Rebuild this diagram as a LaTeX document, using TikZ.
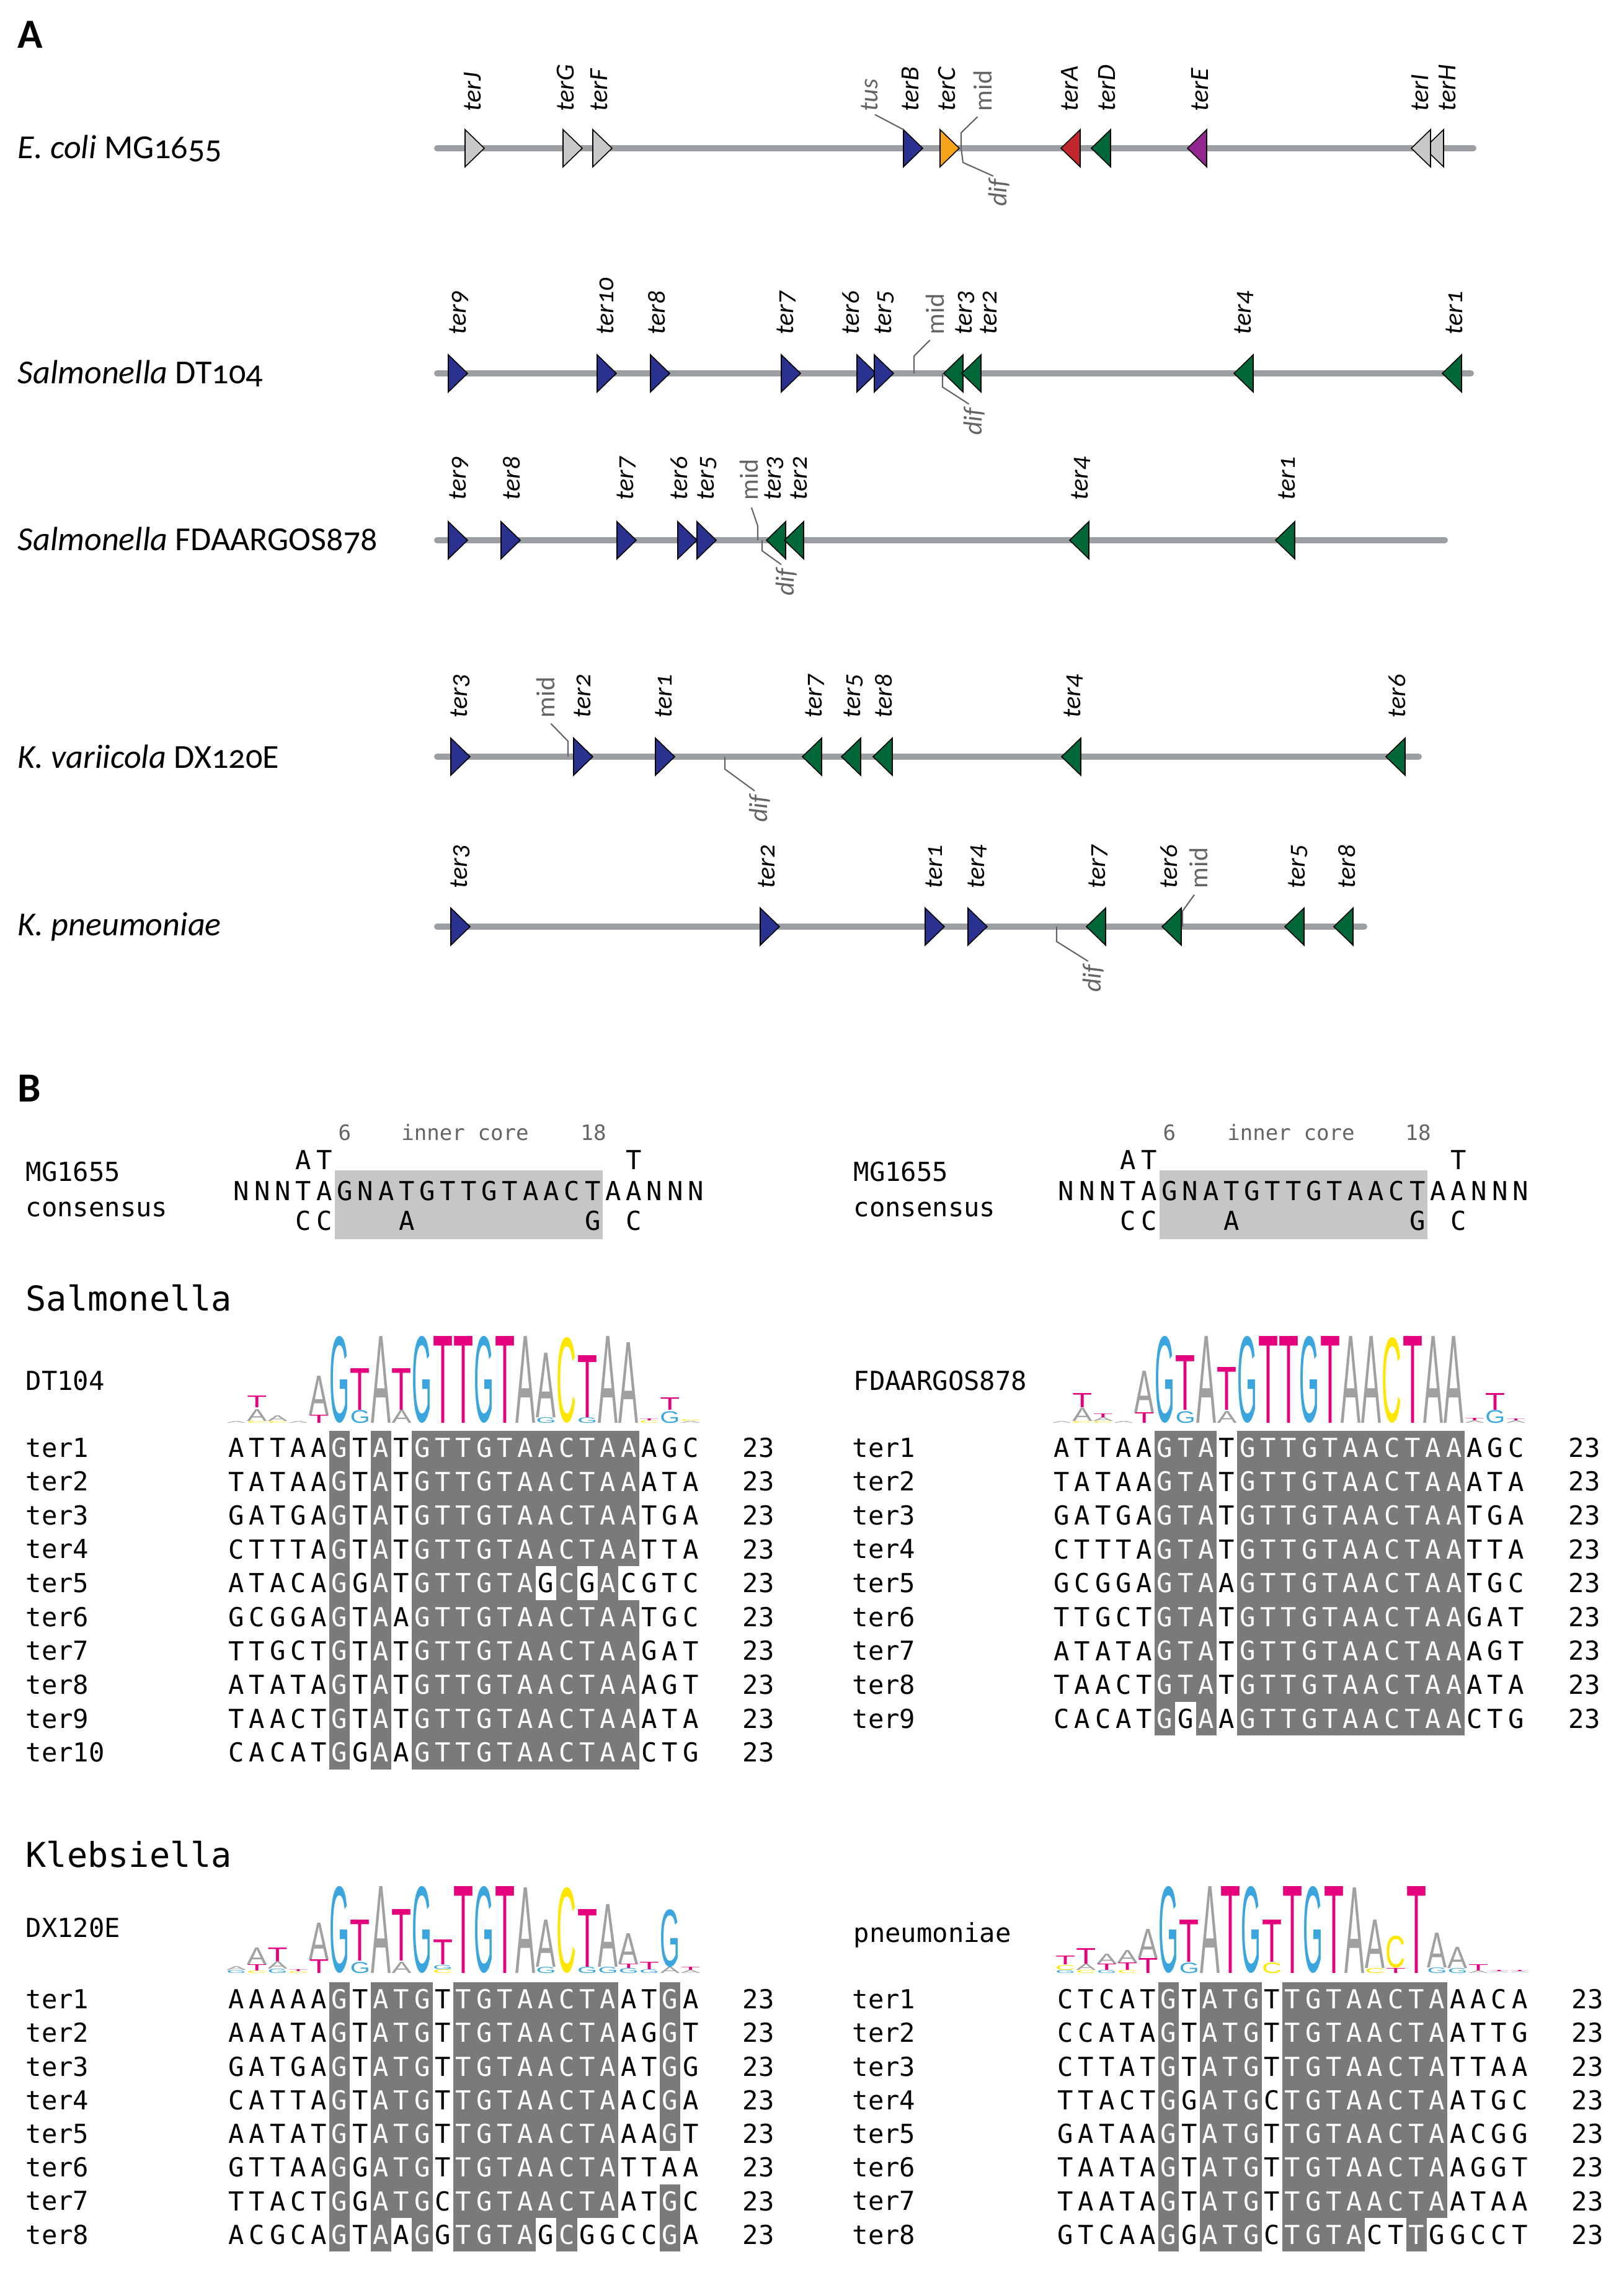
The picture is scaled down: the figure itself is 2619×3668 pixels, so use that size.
\documentclass[tikz,border=0pt]{standalone}
\usepackage{fontspec}
\setmainfont{Carlito}[Numbers=OldStyle]
\newfontfamily\seqfont{DejaVu Sans Mono}
\newfontfamily\logofont{Liberation Sans}
\usepackage{graphicx}
\usetikzlibrary{calc,positioning}

\definecolor{chromgray}{RGB}{155,159,164}
\definecolor{tergray}{RGB}{200,200,200}
\definecolor{terblue}{RGB}{43,49,143}
\definecolor{terorange}{RGB}{247,162,27}
\definecolor{terred}{RGB}{193,39,45}
\definecolor{tergreen}{RGB}{0,104,56}
\definecolor{terpurple}{RGB}{147,39,143}
\definecolor{leadgray}{RGB}{100,100,104}
\definecolor{cellgray}{RGB}{122,122,122}
\definecolor{coregray}{RGB}{198,198,198}
\definecolor{logoA}{RGB}{160,160,160}
\definecolor{logoC}{RGB}{255,230,0}
\definecolor{logoG}{RGB}{58,166,221}
\definecolor{logoT}{RGB}{229,0,126}

\newlength\logounit
\setlength\logounit{0.01cm}
\newcount\seqn

% ter site markers: name, back edge x, y, fill
\newcommand{\terR}[4]{\coordinate (#1) at (#2,#3);
  \draw[termark,fill=#4] ({#2},{#3-30}) -- ({#2+31},{#3}) -- ({#2},{#3+30}) -- cycle;}
\newcommand{\terL}[4]{\coordinate (#1) at (#2,#3);
  \draw[termark,fill=#4] ({#2+31},{#3-30}) -- ({#2},{#3}) -- ({#2+31},{#3+30}) -- cycle;}

% one alignment row, lower case = shaded, . = empty
\newcommand{\seqrow}[4]{\def\seqname{#1}\def\seqx{#2}\def\seqy{#3}%
  \global\seqn=0 \edef\seqtmp{#4}\expandafter\seqnext\seqtmp\relax}
\def\seqnext#1{\ifx#1\relax\else
  \global\advance\seqn by 1
  \ifx#1.\else\seqcell{#1}\fi
  \expandafter\seqnext\fi}
\def\seqcell#1{\uppercase{\def\seqL{#1}}%
  \ifnum`#1>90
    \fill[cellfill] ({\seqx+(\the\seqn-1)*33.3},{\seqy-27.3}) rectangle ({\seqx+\the\seqn*33.3},{\seqy+27.3});
    \node[seqchar,text=white] (\seqname-\the\seqn) at ({\seqx+(\the\seqn-0.5)*33.3},{\seqy}) {\seqL};
  \else
    \node[seqchar] (\seqname-\the\seqn) at ({\seqx+(\the\seqn-0.5)*33.3},{\seqy}) {\seqL};
  \fi}

% sequence logo: name, x0, base y, col/letter/bottom/height
\newcommand{\seqlogo}[4]{\foreach \kcol/\klet/\kbot/\khgt in {#4}
  {\node[logochar,text=logo\klet] (#1-\kcol\klet) at ({#2+(\kcol-0.5)*33.3},{#3-\kbot}) {\resizebox*{0.32cm}{\khgt\logounit}{\klet}};}}

\begin{document}
\begin{tikzpicture}[x=0.01cm,y=-0.01cm,
  chrom/.style={line width=0.1cm,draw=chromgray,line cap=round},
  termark/.style={draw=black,line width=0.45pt,line join=miter},
  terlab/.style={rotate=90,anchor=west,inner sep=0pt,font=\fontsize{12}{14}\selectfont\itshape},
  graylab/.style={terlab,text=leadgray},
  midlab/.style={graylab,font=\fontsize{12}{14}\selectfont},
  diflab/.style={graylab,anchor=east},
  leader/.style={draw=leadgray,line width=0.6pt},
  species/.style={anchor=west,inner sep=0pt,font=\fontsize{15.4}{18}\selectfont},
  panel/.style={anchor=north west,inner sep=0pt,font=\fontsize{19}{22}\selectfont\bfseries},
  seqchar/.style={inner sep=0pt,font=\seqfont\fontsize{12}{14}\selectfont},
  cellfill/.style={fill=cellgray},
  corefill/.style={fill=coregray},
  rowlab/.style={anchor=west,inner sep=0pt,font=\seqfont\fontsize{12}{14}\selectfont},
  countlab/.style={inner sep=0pt,font=\seqfont\fontsize{12}{14}\selectfont},
  grouplab/.style={anchor=west,inner sep=0pt,font=\seqfont\fontsize{15.7}{18}\selectfont},
  corelab/.style={inner sep=0pt,text=leadgray,font=\seqfont\fontsize{9.7}{11}\selectfont},
  logochar/.style={inner sep=0pt,anchor=south,font=\logofont}]

\useasboundingbox (0,0) rectangle (2619,3668);

%% A
\node[panel] (pA) at (28,33) {A};

% E. coli
\node[species] (spE) at (28,239) {\textit{E. coli} MG1655};
\coordinate (eL) at (705,239);
\coordinate (eR) at (2376,239);
\draw[chrom] (eL) -- (eR);
\terR{eJ}{750}{239}{tergray}
\terR{eG}{908}{239}{tergray}
\terR{eF}{956}{239}{tergray}
\terR{eB}{1457}{239}{terblue}
\terR{eC}{1516}{239}{terorange}
\terL{eA}{1711}{239}{terred}
\terL{eD}{1760}{239}{tergreen}
\terL{eE}{1915}{239}{terpurple}
\terL{eH}{2297}{239}{tergray}
\terL{eI}{2276}{239}{tergray}
\node[terlab] (eJl) at (762,180) {terJ};
\node[terlab] (eGl) at (912,180) {terG};
\node[terlab] (eFl) at (966,180) {terF};
\node[graylab] (eTus) at (1402,180) {tus};
\node[terlab] (eBl) at (1468,180) {terB};
\node[terlab] (eCl) at (1527,180) {terC};
\node[midlab] (eMid) at (1585,180) {mid};
\node[terlab] (eAl) at (1725,180) {terA};
\node[terlab] (eDl) at (1785,180) {terD};
\node[terlab] (eEl) at (1935,180) {terE};
\node[terlab] (eIl) at (2290,180) {terI};
\node[terlab] (eHl) at (2334,180) {terH};
\node[diflab] (eDif) at (1611,288) {dif};
\coordinate (eM1) at (1550,214);
\coordinate (eM2) at (1550,239);
\coordinate (eD1) at (1553,262);
\draw[leader,shorten <=0.1cm] (eTus.west) -- ($(eB)+(0,-30)$);
\draw[leader,shorten <=0.12cm] (eMid.west) -- (eM1) -- (eM2);
\draw[leader,shorten >=0.1cm] (eM2) -- (eD1) -- (eDif.east);

% Salmonella DT104
\node[species] (spDT) at (28,602) {\textit{Salmonella} DT104};
\coordinate (dL) at (705,602);
\coordinate (dR) at (2372,602);
\draw[chrom] (dL) -- (dR);
\terR{d9}{723}{602}{terblue}
\terR{d10}{963}{602}{terblue}
\terR{d8}{1049}{602}{terblue}
\terR{d7}{1260}{602}{terblue}
\terR{d6}{1382}{602}{terblue}
\terR{d5}{1410}{602}{terblue}
\terL{d3}{1522}{602}{tergreen}
\terL{d2}{1551}{602}{tergreen}
\terL{d4}{1990}{602}{tergreen}
\terL{d1}{2326}{602}{tergreen}
\node[terlab] (d9l) at (740,540) {ter9};
\node[terlab] (d10l) at (976,540) {ter10};
\node[terlab] (d8l) at (1059,540) {ter8};
\node[terlab] (d7l) at (1268,540) {ter7};
\node[terlab] (d6l) at (1372,540) {ter6};
\node[terlab] (d5l) at (1426,540) {ter5};
\node[midlab] (dMid) at (1508,540) {mid};
\node[terlab] (d3l) at (1556,540) {ter3};
\node[terlab] (d2l) at (1594,540) {ter2};
\node[terlab] (d4l) at (2006,540) {ter4};
\node[terlab] (d1l) at (2345,540) {ter1};
\node[diflab] (dDif) at (1571,657) {dif};
\coordinate (dM1) at (1474,574);
\coordinate (dM2) at (1474,602);
\coordinate (dD0) at (1520,602);
\coordinate (dD1) at (1520,624);
\draw[leader,shorten <=0.12cm] (dMid.west) -- (dM1) -- (dM2);
\draw[leader,shorten >=0.1cm] (dD0) -- (dD1) -- (dDif.east);

% Salmonella FDAARGOS878
\node[species] (spFD) at (28,871) {\textit{Salmonella} FDAARGOS878};
\coordinate (fL) at (705,871);
\coordinate (fR) at (2330,871);
\draw[chrom] (fL) -- (fR);
\terR{f9}{723}{871}{terblue}
\terR{f8}{808}{871}{terblue}
\terR{f7}{995}{871}{terblue}
\terR{f6}{1093}{871}{terblue}
\terR{f5}{1124}{871}{terblue}
\terL{f3}{1236}{871}{tergreen}
\terL{f2}{1265}{871}{tergreen}
\terL{f4}{1725}{871}{tergreen}
\terL{f1}{2057}{871}{tergreen}
\node[terlab] (f9l) at (740,807) {ter9};
\node[terlab] (f8l) at (825,807) {ter8};
\node[terlab] (f7l) at (1010,807) {ter7};
\node[terlab] (f6l) at (1095,807) {ter6};
\node[terlab] (f5l) at (1140,807) {ter5};
\node[midlab] (fMid) at (1208,807) {mid};
\node[terlab] (f3l) at (1248,807) {ter3};
\node[terlab] (f2l) at (1288,807) {ter2};
\node[terlab] (f4l) at (1743,807) {ter4};
\node[terlab] (f1l) at (2075,807) {ter1};
\node[diflab] (fDif) at (1268,916) {dif};
\coordinate (fM1) at (1222,848);
\coordinate (fM2) at (1222,871);
\coordinate (fD0) at (1229,871);
\coordinate (fD1) at (1229,888);
\draw[leader,shorten <=0.12cm] (fMid.west) -- (fM1) -- (fM2);
\draw[leader,shorten >=0.1cm] (fD0) -- (fD1) -- (fDif.east);

% K. variicola DX120E
\node[species] (spKV) at (28,1220) {\textit{K. variicola} DX120E};
\coordinate (kvL) at (705,1220);
\coordinate (kvR) at (2288,1220);
\draw[chrom] (kvL) -- (kvR);
\terR{kv3}{727}{1220}{terblue}
\terR{kv2}{925}{1220}{terblue}
\terR{kv1}{1057}{1220}{terblue}
\terL{kv7}{1294}{1220}{tergreen}
\terL{kv5}{1357}{1220}{tergreen}
\terL{kv8}{1408}{1220}{tergreen}
\terL{kv4}{1712}{1220}{tergreen}
\terL{kv6}{2235}{1220}{tergreen}
\node[terlab] (kv3l) at (742,1158) {ter3};
\node[midlab] (kvMid) at (880,1158) {mid};
\node[terlab] (kv2l) at (939,1158) {ter2};
\node[terlab] (kv1l) at (1070,1158) {ter1};
\node[terlab] (kv7l) at (1314,1158) {ter7};
\node[terlab] (kv5l) at (1376,1158) {ter5};
\node[terlab] (kv8l) at (1425,1158) {ter8};
\node[terlab] (kv4l) at (1731,1158) {ter4};
\node[terlab] (kv6l) at (2253,1158) {ter6};
\node[diflab] (kvDif) at (1225,1281) {dif};
\coordinate (kvM1) at (916,1195);
\coordinate (kvM2) at (916,1220);
\coordinate (kvD0) at (1169,1220);
\coordinate (kvD1) at (1169,1240);
\draw[leader,shorten <=0.12cm] (kvMid.west) -- (kvM1) -- (kvM2);
\draw[leader,shorten >=0.1cm] (kvD0) -- (kvD1) -- (kvDif.east);

% K. pneumoniae
\node[species] (spKP) at (28,1494) {\textit{K. pneumoniae}};
\coordinate (kpL) at (705,1494);
\coordinate (kpR) at (2200,1494);
\draw[chrom] (kpL) -- (kpR);
\terR{kp3}{727}{1494}{terblue}
\terR{kp2}{1226}{1494}{terblue}
\terR{kp1}{1492}{1494}{terblue}
\terR{kp4}{1561}{1494}{terblue}
\terL{kp7}{1752}{1494}{tergreen}
\terL{kp6}{1874}{1494}{tergreen}
\terL{kp5}{2072}{1494}{tergreen}
\terL{kp8}{2151}{1494}{tergreen}
\node[terlab] (kp3l) at (742,1433) {ter3};
\node[terlab] (kp2l) at (1236,1433) {ter2};
\node[terlab] (kp1l) at (1506,1433) {ter1};
\node[terlab] (kp4l) at (1576,1433) {ter4};
\node[terlab] (kp7l) at (1771,1433) {ter7};
\node[terlab] (kp6l) at (1885,1433) {ter6};
\node[midlab] (kpMid) at (1933,1433) {mid};
\node[terlab] (kp5l) at (2093,1433) {ter5};
\node[terlab] (kp8l) at (2172,1433) {ter8};
\node[diflab] (kpDif) at (1763,1555) {dif};
\coordinate (kpM1) at (1907,1469);
\coordinate (kpM2) at (1907,1494);
\coordinate (kpD0) at (1704,1494);
\coordinate (kpD1) at (1704,1518);
\draw[leader,shorten <=0.12cm] (kpMid.west) -- (kpM1) -- (kpM2);
\draw[leader,shorten >=0.1cm] (kpD0) -- (kpD1) -- (kpDif.east);

%% B
\node[panel] (pB) at (28,1732) {B};

% MG1655 consensus, left and right
\fill[corefill] (539.5,1887) rectangle (972.4,1998);
\node[rowlab] (lcN1) at (41,1889) {MG1655};
\node[rowlab] (lcN2) at (41,1950) {consensus};
\seqrow{lcU}{373}{1870}{...AT..............T...}
\seqrow{lcM}{373}{1920}{NNNTAGNATGTTGTAACTAANNN}
\seqrow{lcL}{373}{1968}{...CC...A........G.C...}
\node[corelab] (lc6) at (556,1826) {6};
\node[corelab] (lcIn) at (750,1826) {inner core};
\node[corelab] (lc18) at (957,1826) {18};

\fill[corefill] (1869.5,1887) rectangle (2302.4,1998);
\node[rowlab] (rcN1) at (1376,1889) {MG1655};
\node[rowlab] (rcN2) at (1376,1950) {consensus};
\seqrow{rcU}{1703}{1870}{...AT..............T...}
\seqrow{rcM}{1703}{1920}{NNNTAGNATGTTGTAACTAANNN}
\seqrow{rcL}{1703}{1968}{...CC...A........G.C...}
\node[corelab] (rc6) at (1886,1826) {6};
\node[corelab] (rcIn) at (2082,1826) {inner core};
\node[corelab] (rc18) at (2287,1826) {18};

% Salmonella
\node[grouplab] (gSal) at (41,2093) {Salmonella};
\node[rowlab] (dtName) at (41,2226) {DT104};
\seqlogo{dtLogo}{364.5}{2295}{1/A/0/3,2/C/0/3,2/A/3/19,2/T/25/19,3/C/0/3,3/A/3/9,4/A/0/3,5/T/0/13,5/A/13/63,6/G/0/140,7/G/0/21,7/T/21/67,8/A/0/140,9/A/0/21,9/T/21/67,10/G/0/140,11/T/0/140,12/T/0/140,13/G/0/140,14/T/0/140,15/A/0/140,16/G/0/9,16/A/9/104,17/C/0/138,18/G/0/9,18/T/9/100,19/A/0/140,20/A/0/130,21/C/0/4,21/T/4/3,22/G/0/19,22/T/21/20,23/A/0/3,23/C/3/3}
\foreach \i/\sq in {1/ATTAAgTaTgttgtaactaaAGC,2/TATAAgTaTgttgtaactaaATA,3/GATGAgTaTgttgtaactaaTGA,4/CTTTAgTaTgttgtaactaaTTA,5/ATACAgGaTgttgtaGcGaCGTC,6/GCGGAgTaAgttgtaactaaTGC,7/TTGCTgTaTgttgtaactaaGAT,8/ATATAgTaTgttgtaactaaAGT,9/TAACTgTaTgttgtaactaaATA,10/CACATgGaAgttgtaactaaCTG}{
  \node[rowlab] (dtN\i) at (41,{2334+(\i-1)*54.6}) {ter\i};
  \seqrow{dt\i}{364.5}{2334+(\i-1)*54.6}{\sq}
  \node[countlab] (dtC\i) at (1223,{2334+(\i-1)*54.6}) {23};
}

\node[rowlab] (fdName) at (1376,2226) {FDAARGOS878};
\seqlogo{fdLogo}{1695.5}{2295}{1/A/0/3,2/C/0/3,2/A/3/21,2/T/25/23,3/C/0/3,3/A/3/6,3/T/9/6,4/A/0/3,5/T/0/17,5/A/17/67,6/G/0/140,7/G/0/19,7/T/21/88,8/A/0/140,9/A/0/19,9/T/21/69,10/G/0/140,11/T/0/140,12/T/0/140,13/G/0/140,14/T/0/140,15/A/0/140,16/A/0/140,17/C/0/138,18/T/0/140,19/A/0/140,20/A/0/140,21/A/0/4,21/T/4/4,22/G/0/21,22/T/21/27,23/A/0/4,23/T/4/3}
\foreach \i/\sq in {1/ATTAAgtaTgttgtaactaaAGC,2/TATAAgtaTgttgtaactaaATA,3/GATGAgtaTgttgtaactaaTGA,4/CTTTAgtaTgttgtaactaaTTA,5/GCGGAgtaAgttgtaactaaTGC,6/TTGCTgtaTgttgtaactaaGAT,7/ATATAgtaTgttgtaactaaAGT,8/TAACTgtaTgttgtaactaaATA,9/CACATgGaAgttgtaactaaCTG}{
  \node[rowlab] (fdN\i) at (1374,{2334+(\i-1)*54.6}) {ter\i};
  \seqrow{fd\i}{1695.5}{2334+(\i-1)*54.6}{\sq}
  \node[countlab] (fdC\i) at (2555,{2334+(\i-1)*54.6}) {23};
}

% Klebsiella
\node[grouplab] (gKle) at (41,2990) {Klebsiella};
\node[rowlab] (kvName) at (41,3108) {DX120E};
\seqlogo{kvLogo}{364.5}{3182}{1/G/0/5,1/A/5/6,2/C/0/4,2/T/4/10,2/A/14/27,3/G/0/7,3/A/7/12,3/T/19/22,4/C/0/3,4/T/3/3,5/T/0/22,5/A/22/59,6/G/0/140,7/G/0/18,7/T/20/66,8/A/0/140,9/A/0/18,9/T/20/83,10/G/0/140,11/C/0/6,11/G/6/7,11/T/14/40,12/T/0/140,13/G/0/140,14/T/0/140,15/A/0/138,16/G/0/10,16/A/10/76,17/C/0/138,18/G/0/10,18/T/10/93,19/G/0/10,19/A/10/101,20/G/0/8,20/T/8/7,20/A/15/49,21/G/0/6,21/T/6/12,22/A/0/10,22/G/10/93,23/A/0/5,23/T/5/5}
\foreach \i/\sq in {1/AAAAAgTatgTtgtaactaATgA,2/AAATAgTatgTtgtaactaAGgT,3/GATGAgTatgTtgtaactaATgG,4/CATTAgTatgTtgtaactaACgA,5/AATATgTatgTtgtaactaAAgT,6/GTTAAgGatgTtgtaactaTTAA,7/TTACTgGatgCtgtaactaATgC,8/ACGCAgTaAgGtgtaGcGGCCgA}{
  \node[rowlab] (kvN\i) at (41,{3223+(\i-1)*54.3}) {ter\i};
  \seqrow{kv\i}{364.5}{3223+(\i-1)*54.3}{\sq}
  \node[countlab] (kvC\i) at (1223,{3223+(\i-1)*54.3}) {23};
}

\node[rowlab] (kpName) at (1376,3120) {pneumoniae};
\seqlogo{kpLogo}{1701.5}{3182}{1/G/0/5,1/C/5/8,1/T/14/14,2/C/0/5,2/A/5/10,2/T/15/25,3/G/0/5,3/T/5/10,3/A/15/16,4/C/0/5,4/T/5/12,4/A/17/20,5/T/0/24,5/A/24/47,6/G/0/140,7/G/0/17,7/T/18/68,8/A/0/140,9/T/0/140,10/G/0/140,11/C/0/17,11/T/18/68,12/T/0/140,13/G/0/140,14/T/0/140,15/A/0/138,16/C/0/8,16/A/8/78,17/T/0/8,17/C/8/52,18/T/0/140,19/G/0/9,19/A/9/56,20/G/0/8,20/A/8/34,21/A/0/4,21/T/4/10,22/A/0/2,22/T/2/2,23/A/0/2,23/T/2/2}
\foreach \i/\sq in {1/CTCATgTatgTtgtaactaAACA,2/CCATAgTatgTtgtaactaATTG,3/CTTATgTatgTtgtaactaTTAA,4/TTACTgGatgCtgtaactaATGC,5/GATAAgTatgTtgtaactaACGG,6/TAATAgTatgTtgtaactaAGGT,7/TAATAgTatgTtgtaactaATAA,8/GTCAAgGatgCtgtaCTtGGCCT}{
  \node[rowlab] (kpN\i) at (1374,{3223+(\i-1)*54.3}) {ter\i};
  \seqrow{kp\i}{1701.5}{3223+(\i-1)*54.3}{\sq}
  \node[countlab] (kpC\i) at (2560,{3223+(\i-1)*54.3}) {23};
}
\end{tikzpicture}
\end{document}
